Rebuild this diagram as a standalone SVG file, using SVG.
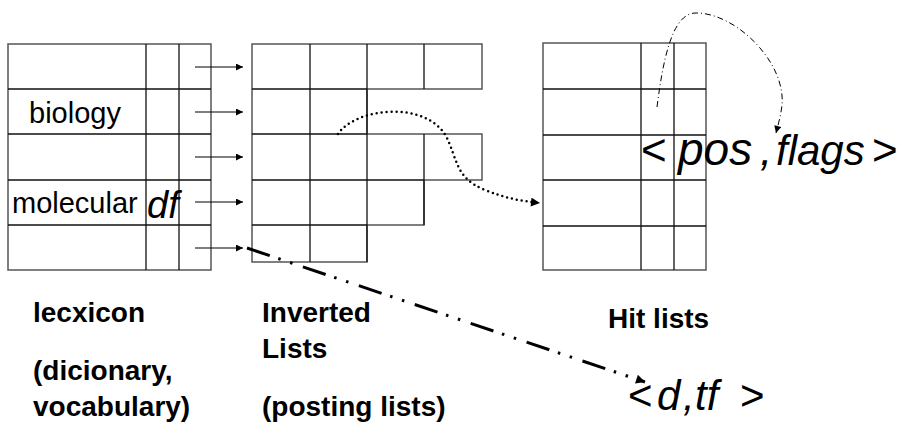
<svg xmlns="http://www.w3.org/2000/svg" width="901" height="423" viewBox="0 0 901 423">
<defs>
<marker id="ah" viewBox="0 0 10 10" refX="10" refY="5" markerWidth="8" markerHeight="7" markerUnits="userSpaceOnUse" orient="auto">
<path d="M0,0 L10,5 L0,10 z" fill="#000"/>
</marker>
<marker id="ahb" viewBox="0 0 10 10" refX="10" refY="5" markerWidth="12" markerHeight="9" markerUnits="userSpaceOnUse" orient="auto">
<path d="M0,0 L10,5 L0,10 z" fill="#000"/>
</marker>
</defs>
<style>
.g{fill:none;stroke:#111;stroke-width:1.3}
.o{fill:#fff;stroke:#555;stroke-width:1.5}
text{font-family:'Liberation Sans',Arial,sans-serif;fill:#000}
.b{font-weight:bold;font-size:28px}
.m{font-style:italic}
.ar{stroke:#000;stroke-width:1.2;fill:none;marker-end:url(#ah)}
</style>
<rect width="901" height="423" fill="#fff"/>

<g id="lexicon">
<rect class="o" x="8" y="44" width="203" height="226"/>
<path class="g" d="M8,89H211M8,134H211M8,180H211M8,225H211M146,44V270M179,44V270"/>
<text x="29" y="123" font-size="29">biology</text>
<text x="12" y="213" font-size="29">molecular</text>
<text class="m" x="147" y="218" font-size="38">df</text>
</g>

<g id="inverted-lists">
<path class="o" d="M252,44H482V89H367V134H482V180H424V225H367V262H252Z"/>
<path class="g" d="M252,89H367M252,134H367M252,180H424M252,225H367M310,44V262M367,44V262M424,44V89M424,134V225"/>
</g>

<g id="hit-lists">
<rect class="o" x="543" y="43" width="163" height="227"/>
<path class="g" d="M543,89H706M543,135H706M543,180H706M543,226H706M641,43V270M674,43V270"/>
</g>

<g id="connectors">
<line class="ar" x1="195" y1="67" x2="243" y2="67"/>
<line class="ar" x1="195" y1="112" x2="243" y2="112"/>
<line class="ar" x1="195" y1="157" x2="243" y2="157"/>
<line class="ar" x1="195" y1="202" x2="243" y2="202"/>
<line class="ar" x1="195" y1="248" x2="243" y2="248"/>
<path d="M338,134 C355,108 425,100 446,136 C458,160 455,178 485,190 C505,198 520,201 540,203" fill="none" stroke="#000" stroke-width="2.5" stroke-linecap="round" stroke-dasharray="0 5" marker-end="url(#ahb)"/>
<path d="M657,107 C663,60 672,14 695,13 C735,12 786,62 782,105 C781,115 778,125 776,133" fill="none" stroke="#000" stroke-width="1" stroke-dasharray="6 3 1 3" marker-end="url(#ah)"/>
<line x1="247" y1="248" x2="645" y2="382" stroke="#000" stroke-width="3" stroke-dasharray="24 9 2.5 10 2.5 11" marker-end="url(#ahb)"/>
</g>

<g id="labels">
<text y="165" font-size="44"><tspan x="641">&lt;</tspan><tspan x="678" font-size="46" font-style="italic">pos</tspan><tspan x="760" font-style="italic">,</tspan><tspan x="776" font-size="42" font-style="italic">flags</tspan><tspan x="872">&gt;</tspan></text>
<text y="410" font-size="42"><tspan x="628">&lt;</tspan><tspan x="657" font-style="italic">d</tspan><tspan x="683" font-style="italic">,</tspan><tspan x="695" font-style="italic">tf</tspan><tspan x="740">&gt;</tspan></text>
<text class="b" x="33" y="322">lecxicon</text>
<text class="b" x="33" y="380">(dicionary,</text>
<text class="b" x="33" y="416">vocabulary)</text>
<text class="b" x="262" y="322">Inverted</text>
<text class="b" x="262" y="358">Lists</text>
<text class="b" x="262" y="416">(posting lists)</text>
<text class="b" x="608" y="328">Hit lists</text>
</g>
</svg>
